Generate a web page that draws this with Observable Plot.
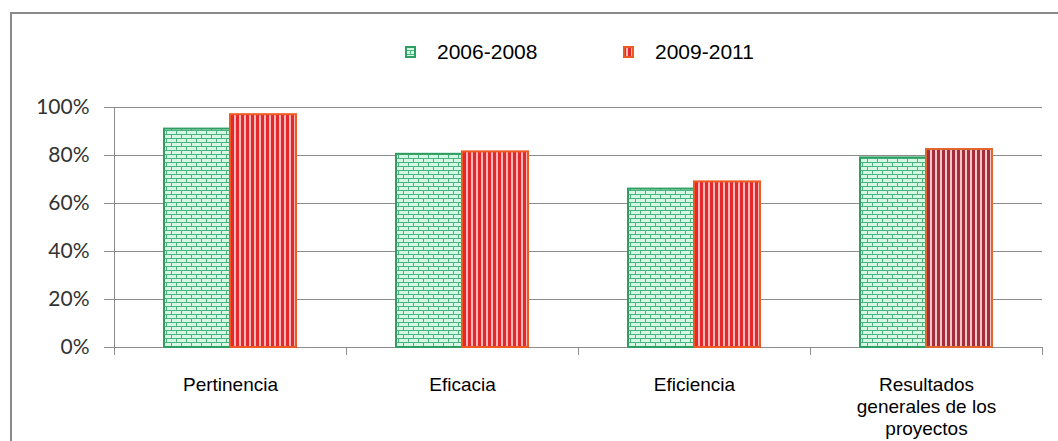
<!DOCTYPE html>
<html>
<head>
<meta charset="utf-8">
<script src="https://cdn.jsdelivr.net/npm/d3@7"></script>
<script src="https://cdn.jsdelivr.net/npm/@observablehq/plot@0.6"></script>
<style>
  body { margin: 0; background: #fff; }
  #wrap { position: relative; width: 1058px; height: 441px; overflow: hidden; background: #fff; }
  #frame { position: absolute; left: 10px; top: 12px; width: 2000px; height: 2000px;
           border-left: 2px solid #8a8a8a; border-top: 2px solid #8a8a8a; }
  #legend { position: relative; height: 70px; font: 21px "Liberation Sans", Arial, sans-serif; color: #000; }
  .item { position: absolute; top: 42px; height: 20px; display: flex; align-items: center; gap: 21px; }
  .item svg { display: block; }
  #chart { position: relative; }
</style>
</head>
<body>
<div id="wrap">
  <div id="frame"></div>
  <div id="legend"></div>
  <div id="chart"></div>
</div>
<script>
// Categories (axis labels, line breaks included) and the two periods compared
const categories = ["Pertinencia", "Eficacia", "Eficiencia", "Resultados\ngenerales de los\nproyectos"];
const series = ["2006-2008", "2009-2011"];
const values2006 = [0.91, 0.805, 0.66, 0.79];
const values2009 = [0.97, 0.815, 0.69, 0.825];
const yTicks = [0, 0.2, 0.4, 0.6, 0.8, 1];

const rows = categories.flatMap((c, i) => [
  {category: c, series: series[0], value: values2006[i]},
  {category: c, series: series[1], value: values2009[i]}
]);
const lastCategory = categories[categories.length - 1];

// Fill patterns: green bricks and red vertical stripes (darker for the last group)
const patternDefs = `
  <pattern id="bricks" patternUnits="userSpaceOnUse" width="10" height="8">
    <rect width="10" height="8" fill="#d4f8e4"/>
    <path d="M0,0.5H10M0,4.5H10M0.5,0V4.5M5.5,4.5V8" stroke="#4bb47f" stroke-width="1" fill="none"/>
  </pattern>
  <pattern id="stripes" patternUnits="userSpaceOnUse" width="5" height="10">
    <rect width="5" height="10" fill="#f8b8b8"/>
    <rect width="3" height="10" fill="#e3282e"/>
  </pattern>
  <pattern id="stripesDark" patternUnits="userSpaceOnUse" width="5" height="10">
    <rect width="5" height="10" fill="#f0c6c8"/>
    <rect width="3" height="10" fill="#a52d3b"/>
  </pattern>`;

const plot = Plot.plot({
  width: 1058,
  height: 371,
  marginTop: 37,
  marginBottom: 94,
  marginLeft: 113,
  marginRight: 15,
  style: {background: "transparent"},
  fx: {domain: categories, padding: 0, label: null},
  x: {domain: series, paddingInner: 0, paddingOuter: 0.739, axis: null},
  y: {domain: [0, 1], label: null},
  marks: [
    Plot.gridY(yTicks, {stroke: "#8c8c8c", strokeOpacity: 1}),
    Plot.barY(rows, {
      filter: d => d.series === series[0],
      fx: "category", x: "series", y: "value",
      fill: "url(#bricks)", stroke: "#2f9e63", strokeWidth: 2
    }),
    Plot.barY(rows, {
      filter: d => d.series === series[1] && d.category !== lastCategory,
      fx: "category", x: "series", y: "value",
      fill: "url(#stripes)", stroke: "#ef5a24", strokeWidth: 2
    }),
    Plot.barY(rows, {
      filter: d => d.series === series[1] && d.category === lastCategory,
      fx: "category", x: "series", y: "value",
      fill: "url(#stripesDark)", stroke: "#e0682f", strokeWidth: 2
    }),
    Plot.axisY(yTicks, {
      tickFormat: d3.format(".0%"),
      tickSize: 10, tickPadding: 15,
      fontSize: 21, fontFamily: "Lato, 'Open Sans', sans-serif",
      fill: "#333", stroke: "#8c8c8c"
    }),
    Plot.axisFx({
      anchor: "bottom", tickSize: 0, tickPadding: 28,
      fontSize: 19, fontFamily: "'Liberation Sans', Arial, sans-serif",
      fill: "#000", lineHeight: 1.15
    })
  ]
});

d3.select(plot).insert("defs", ":first-child").html(patternDefs);

// Vertical value axis line and category boundary ticks, from the fx and y scales
const fx = plot.scale("fx");
const yScale = plot.scale("y");
const bounds = categories.map(c => fx.apply(c));
bounds.push(bounds[bounds.length - 1] + fx.bandwidth);
const y0 = yScale.apply(0);
const y1 = yScale.apply(1);
const axisG = d3.select(plot).append("g").attr("stroke", "#8c8c8c");
axisG.append("line")
  .attr("x1", Math.round(bounds[0]) + 0.5)
  .attr("x2", Math.round(bounds[0]) + 0.5)
  .attr("y1", y1)
  .attr("y2", y0 + 8);
axisG.selectAll("line.tick")
  .data(bounds)
  .join("line")
  .attr("class", "tick")
  .attr("x1", d => Math.round(d) + 0.5)
  .attr("x2", d => Math.round(d) + 0.5)
  .attr("y1", y0)
  .attr("y2", y0 + 8);

document.getElementById("chart").appendChild(plot);

// Legend with pattern swatches
const legend = d3.select("#legend");
const swatchStyles = [
  {fill: "url(#bricks)", stroke: "#2f9e63", left: 405},
  {fill: "url(#stripes)", stroke: "#ef5a24", left: 623}
];
series.forEach((s, i) => {
  const item = legend.append("div").attr("class", "item").style("left", swatchStyles[i].left + "px");
  const sw = item.append("svg").attr("width", 11).attr("height", 12);
  sw.append("rect").attr("x", 1).attr("y", 1).attr("width", 9).attr("height", 10)
    .attr("fill", swatchStyles[i].fill).attr("stroke", swatchStyles[i].stroke).attr("stroke-width", 2);
  item.append("span").text(s);
});
</script>
</body>
</html>
